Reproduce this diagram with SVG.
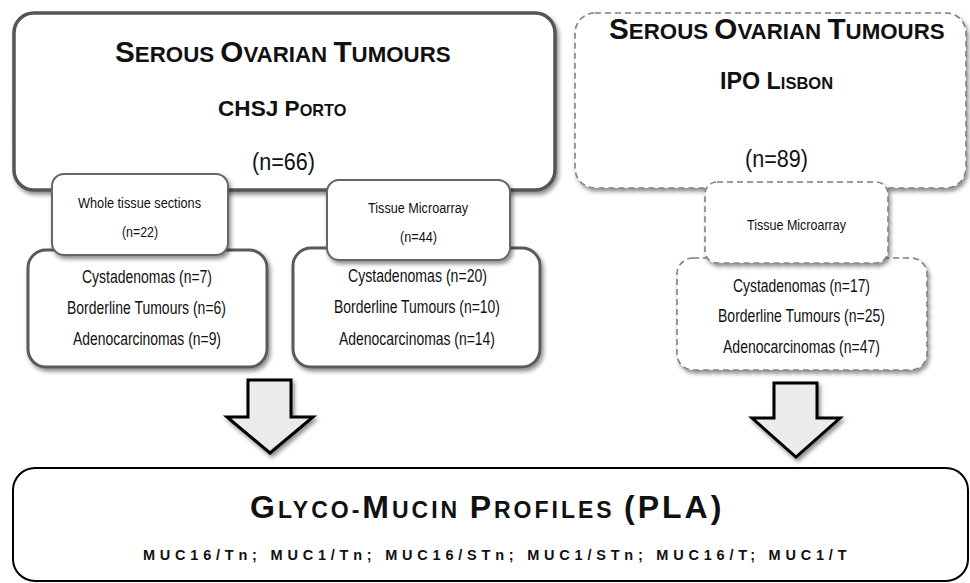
<svg xmlns="http://www.w3.org/2000/svg" width="970" height="583" viewBox="0 0 970 583">
<defs>
<filter id="sh" x="-10%" y="-10%" width="125%" height="130%">
<feDropShadow dx="2" dy="3" stdDeviation="2" flood-color="#000" flood-opacity="0.45"/>
</filter>
<style>
.big{fill:#fff;stroke:#555;stroke-width:3.5;filter:url(#sh)}
.sub{fill:#fff;stroke:#5a5a5a;stroke-width:3;filter:url(#sh)}
.small{fill:#fff;stroke:#666;stroke-width:2;filter:url(#sh)}
.dash{fill:#fff;stroke:#808080;stroke-width:1.6;stroke-dasharray:6 4;filter:url(#sh)}
.arrow{fill:#ebebeb;stroke:#000;stroke-width:3;stroke-linejoin:miter;filter:url(#sh)}
text{font-family:"Liberation Sans",Arial,sans-serif;fill:#111}
.t{font-weight:bold}
.r{font-weight:normal}
.L{font-size:29.7px}
.s{font-size:22.3px}
</style>
</defs>

<g id="porto">
<rect class="big" x="14" y="13" width="541" height="177" rx="20"/>
<text class="t" x="115" y="62"><tspan class="L">S</tspan><tspan class="s">EROUS </tspan><tspan class="L">O</tspan><tspan class="s">VARIAN </tspan><tspan class="L">T</tspan><tspan class="s">UMOURS</tspan></text>
<text class="t" x="218" y="116"><tspan font-size="22.6">CHSJ P</tspan><tspan font-size="16.3">ORTO</tspan></text>
<text class="r" x="252" y="170" font-size="23" textLength="63" lengthAdjust="spacingAndGlyphs">(n=66)</text>
</g>

<g id="lisbon">
<rect class="dash" x="575" y="13" width="391" height="175" rx="20"/>
<text class="t" x="609" y="39"><tspan class="L">S</tspan><tspan class="s">EROUS </tspan><tspan class="L">O</tspan><tspan class="s">VARIAN </tspan><tspan class="L">T</tspan><tspan class="s">UMOURS</tspan></text>
<text class="t" x="720" y="89"><tspan font-size="23.3">IPO L</tspan><tspan font-size="16.5">ISBON</tspan></text>
<text class="r" x="745" y="167" font-size="23" textLength="63" lengthAdjust="spacingAndGlyphs">(n=89)</text>
</g>

<g id="porto-whole-types">
<rect class="sub" x="28" y="250" width="239" height="117" rx="18"/>
<text class="r" x="82" y="283" font-size="17.5" textLength="130" lengthAdjust="spacingAndGlyphs">Cystadenomas (n=7)</text>
<text class="r" x="67" y="314" font-size="17.5" textLength="159" lengthAdjust="spacingAndGlyphs">Borderline Tumours (n=6)</text>
<text class="r" x="73" y="345" font-size="17.5" textLength="148" lengthAdjust="spacingAndGlyphs">Adenocarcinomas (n=9)</text>
</g>

<g id="porto-whole">
<rect class="small" x="52" y="174" width="176" height="81" rx="12"/>
<text class="r" x="78" y="208" font-size="14" textLength="123" lengthAdjust="spacingAndGlyphs">Whole tissue sections</text>
<text class="r" x="122" y="237" font-size="14" textLength="36" lengthAdjust="spacingAndGlyphs">(n=22)</text>
</g>

<g id="porto-tma-types">
<rect class="sub" x="293" y="248" width="247" height="119" rx="18"/>
<text class="r" x="348" y="282" font-size="17.5" textLength="139" lengthAdjust="spacingAndGlyphs">Cystadenomas (n=20)</text>
<text class="r" x="334" y="313" font-size="17.5" textLength="166" lengthAdjust="spacingAndGlyphs">Borderline Tumours (n=10)</text>
<text class="r" x="339" y="345" font-size="17.5" textLength="156" lengthAdjust="spacingAndGlyphs">Adenocarcinomas (n=14)</text>
</g>

<g id="porto-tma">
<rect class="small" x="327" y="180" width="183" height="80" rx="12"/>
<text class="r" x="368" y="213" font-size="14" textLength="100" lengthAdjust="spacingAndGlyphs">Tissue Microarray</text>
<text class="r" x="400" y="242" font-size="14" textLength="37" lengthAdjust="spacingAndGlyphs">(n=44)</text>
</g>

<g id="lisbon-tma-types">
<rect class="dash" x="677" y="258" width="250" height="112" rx="16"/>
<text class="r" x="733" y="292" font-size="17.5" textLength="137" lengthAdjust="spacingAndGlyphs">Cystadenomas (n=17)</text>
<text class="r" x="718" y="322" font-size="17.5" textLength="167" lengthAdjust="spacingAndGlyphs">Borderline Tumours (n=25)</text>
<text class="r" x="723" y="353" font-size="17.5" textLength="157" lengthAdjust="spacingAndGlyphs">Adenocarcinomas (n=47)</text>
</g>

<g id="lisbon-tma">
<rect class="dash" x="705" y="182" width="183" height="81" rx="12"/>
<text class="r" x="747" y="230" font-size="14" textLength="99" lengthAdjust="spacingAndGlyphs">Tissue Microarray</text>
</g>

<g id="connectors">
<path class="arrow" d="M248,380 H291 V417 H313 L270,453 L227,417 H248 Z"/>
<path class="arrow" d="M774,383 H817 V418 H840 L796,457 L752,418 H774 Z"/>
</g>

<g id="profiles">
<rect x="13" y="468" width="955" height="113" rx="22" fill="#fff" stroke="#000" stroke-width="2"/>
<text class="t" x="250" y="518" letter-spacing="3"><tspan font-size="32">G</tspan><tspan font-size="23">LYCO-</tspan><tspan font-size="32">M</tspan><tspan font-size="23">UCIN </tspan><tspan font-size="32">P</tspan><tspan font-size="23">ROFILES </tspan><tspan font-size="32">(PLA)</tspan></text>
<text class="t" x="143" y="560" font-size="14.5" letter-spacing="4.5" textLength="708" lengthAdjust="spacing">MUC16/Tn; MUC1/Tn; MUC16/STn; MUC1/STn; MUC16/T; MUC1/T</text>
</g>
</svg>
